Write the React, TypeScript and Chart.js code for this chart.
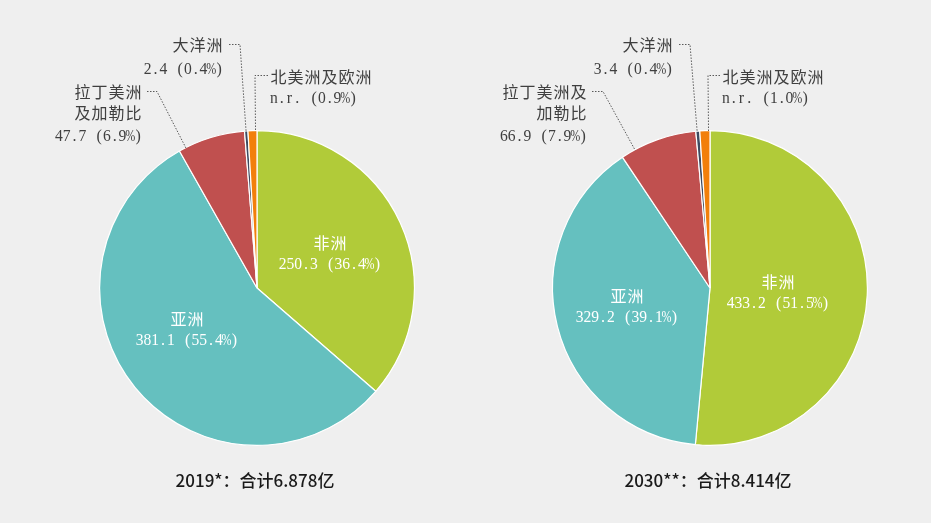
import React, { useEffect, useRef } from 'react';
import { Chart, registerables } from 'chart.js';

Chart.register(...registerables);

// ---------- data ----------
const regions = ['非洲', '亚洲', '拉丁美洲及加勒比', '大洋洲', '北美洲及欧洲'];
const sliceColors = ['#b1cb39', '#65c0bf', '#c0504f', '#3e4b61', '#f27f0b'];
const values2019 = [250.3, 381.1, 47.7, 2.4, 6.3];
const values2030 = [433.2, 329.2, 66.9, 3.4, 8.7];
const valueText2019 = ['250.3', '381.1', '47.7', '2.4', 'n.r.'];
const valueText2030 = ['433.2', '329.2', '66.9', '3.4', 'n.r.'];
const pct2019 = ['36.4%', '55.4%', '6.9%', '0.4%', '0.9%'];
const pct2030 = ['51.5%', '39.1%', '7.9%', '0.4%', '1.0%'];
const titles = ['2019*：合计6.878亿', '2030**：合计8.414亿'];
const latinLines2019 = ['拉丁美洲', '及加勒比'];
const latinLines2030 = ['拉丁美洲及', '加勒比'];

// ---------- text helpers ----------
const LAT_ADV = 7.8;
const SPACE_ADV = 9;
const CJK_ADV = 17;
const LAT_FONT = "16px 'Liberation Serif'";
const CJK_FONT = "16px 'Noto Sans CJK SC'";

function isCJK(ch: string) {
  return ch.charCodeAt(0) > 0x2e80;
}
function advOf(ch: string) {
  if (isCJK(ch)) return CJK_ADV;
  if (ch === ' ') return SPACE_ADV;
  return LAT_ADV;
}
function cellsWidth(text: string) {
  let w = 0;
  for (const ch of text) w += advOf(ch);
  return w;
}
function drawCells(ctx: CanvasRenderingContext2D, text: string, x: number, y: number, align: string, color: string) {
  const w = cellsWidth(text);
  let cx = align === 'left' ? x : align === 'right' ? x - w : x - w / 2;
  ctx.save();
  ctx.fillStyle = color;
  ctx.textAlign = 'center';
  ctx.textBaseline = 'middle';
  for (const ch of text) {
    const cjk = isCJK(ch);
    const adv = advOf(ch);
    if (ch !== ' ') {
      ctx.font = cjk ? CJK_FONT : LAT_FONT;
      const mw = ctx.measureText(ch).width;
      const maxW = ch === '%' ? 10 : adv;
      ctx.save();
      ctx.translate(cx + adv / 2, y);
      if (!cjk && mw > maxW) ctx.scale(maxW / mw, 1);
      ctx.fillText(ch, 0, cjk ? 0 : 0.5);
      ctx.restore();
    }
    cx += adv;
  }
  ctx.restore();
}

type Outer = {
  i: number;
  align: string;
  tx: number;
  names: string[];
  ny: number[];
  vy: number;
  start: [number, number];
  elbow: [number, number];
};

type PieSpec = {
  values: number[];
  valueText: string[];
  pct: string[];
  title: string;
  width: number;
  padding: { left: number; right: number; top: number; bottom: number };
  innerOffset: [number, number][];
  outer: Outer[];
};

const specs: PieSpec[] = [
  {
    values: values2019,
    valueText: valueText2019,
    pct: pct2019,
    title: titles[0],
    width: 465,
    padding: { left: 99, right: 50, top: 130, bottom: 77 },
    innerOffset: [
      [73, -35],
      [-70, 41],
    ],
    outer: [
      { i: 2, align: 'right', tx: -115, names: latinLines2019, ny: [-196, -175], vy: -152, start: [-110, -197], elbow: [-100, -197] },
      { i: 3, align: 'right', tx: -34, names: [regions[3]], ny: [-243], vy: -219, start: [-28, -244], elbow: [-17, -244] },
      { i: 4, align: 'left', tx: 13, names: [regions[4]], ny: [-211], vy: -190, start: [11, -213], elbow: [-2, -213] },
    ],
  },
  {
    values: values2030,
    valueText: valueText2030,
    pct: pct2030,
    title: titles[1],
    width: 466,
    padding: { left: 87, right: 63, top: 130, bottom: 77 },
    innerOffset: [
      [68, 4],
      [-83, 18],
    ],
    outer: [
      { i: 2, align: 'right', tx: -123, names: latinLines2030, ny: [-196, -175], vy: -152, start: [-118, -197], elbow: [-107, -197] },
      { i: 3, align: 'right', tx: -37, names: [regions[3]], ny: [-243], vy: -219, start: [-31, -244], elbow: [-20, -244] },
      { i: 4, align: 'left', tx: 12, names: [regions[4]], ny: [-211], vy: -190, start: [10, -213], elbow: [-2, -213] },
    ],
  },
];

function makeLabelPlugin(spec: PieSpec) {
  return {
    id: 'pieLabels',
    afterDraw(chart: any) {
      const ctx: CanvasRenderingContext2D = chart.ctx;
      const meta = chart.getDatasetMeta(0);
      const arcs = meta.data;
      const c = arcs[0].getProps(['x', 'y'], true);
      const cx = c.x;
      const cy = c.y;

      // inner labels
      spec.innerOffset.forEach((off, i) => {
        const px = cx + off[0];
        const py = cy + off[1];
        drawCells(ctx, regions[i], px, py - 10.5, 'center', '#ffffff');
        drawCells(ctx, spec.valueText[i] + ' (' + spec.pct[i] + ')', px, py + 11, 'center', '#ffffff');
      });

      // outer labels with leader lines
      spec.outer.forEach((o) => {
        const a = arcs[o.i].getProps(['startAngle', 'endAngle', 'outerRadius'], true);
        let ang = Math.atan2(o.elbow[1], o.elbow[0]);
        while (ang < a.startAngle) ang += Math.PI * 2;
        while (ang > a.startAngle + Math.PI * 2) ang -= Math.PI * 2;
        ang = Math.min(Math.max(ang, a.startAngle), a.endAngle);
        const ex = cx + Math.cos(ang) * (a.outerRadius - 1);
        const ey = cy + Math.sin(ang) * (a.outerRadius - 1);
        ctx.save();
        ctx.strokeStyle = '#5a5a5a';
        ctx.lineWidth = 1;
        ctx.setLineDash([1.5, 1.5]);
        ctx.beginPath();
        ctx.moveTo(cx + o.start[0], cy + o.start[1] + 0.5);
        ctx.lineTo(cx + o.elbow[0], cy + o.elbow[1] + 0.5);
        ctx.lineTo(ex, ey);
        ctx.stroke();
        ctx.restore();
        o.names.forEach((n, k) => drawCells(ctx, n, cx + o.tx, cy + o.ny[k], o.align, '#3f3f3f'));
        drawCells(ctx, spec.valueText[o.i] + ' (' + spec.pct[o.i] + ')', cx + o.tx, cy + o.vy, o.align, '#3f3f3f');
      });

      // title under pie
      ctx.save();
      ctx.fillStyle = '#1a1a1a';
      ctx.font = "500 17px 'Noto Sans CJK SC'";
      ctx.textAlign = 'center';
      ctx.textBaseline = 'middle';
      ctx.fillText(spec.title, cx - 2, 481);
      ctx.restore();
    },
  };
}

function PieCanvas({ spec, left }: { spec: PieSpec; left: number }) {
  const ref = useRef<HTMLCanvasElement | null>(null);
  useEffect(() => {
    if (!ref.current) return;
    const chart = new Chart(ref.current, {
      type: 'pie',
      data: {
        labels: regions,
        datasets: [
          {
            data: spec.values,
            backgroundColor: sliceColors,
            borderColor: '#ffffff',
            borderWidth: 1.2,
          },
        ],
      },
      options: {
        animation: false,
        responsive: false,
        layout: { padding: spec.padding },
        plugins: {
          legend: { display: false },
          tooltip: { enabled: false },
        },
      },
      plugins: [makeLabelPlugin(spec)],
    } as any);
    return () => chart.destroy();
  }, [spec]);
  return (
    <div style={{ position: 'absolute', left, top: 0, width: spec.width, height: 523 }}>
      <canvas ref={ref} width={spec.width} height={523} style={{ display: 'block' }} />
    </div>
  );
}

export default function App() {
  return (
    <div
      style={{
        position: 'absolute',
        left: 0,
        top: 0,
        width: 931,
        height: 523,
        background: '#efefef',
        overflow: 'hidden',
      }}
    >
      <PieCanvas spec={specs[0]} left={0} />
      <PieCanvas spec={specs[1]} left={465} />
    </div>
  );
}
